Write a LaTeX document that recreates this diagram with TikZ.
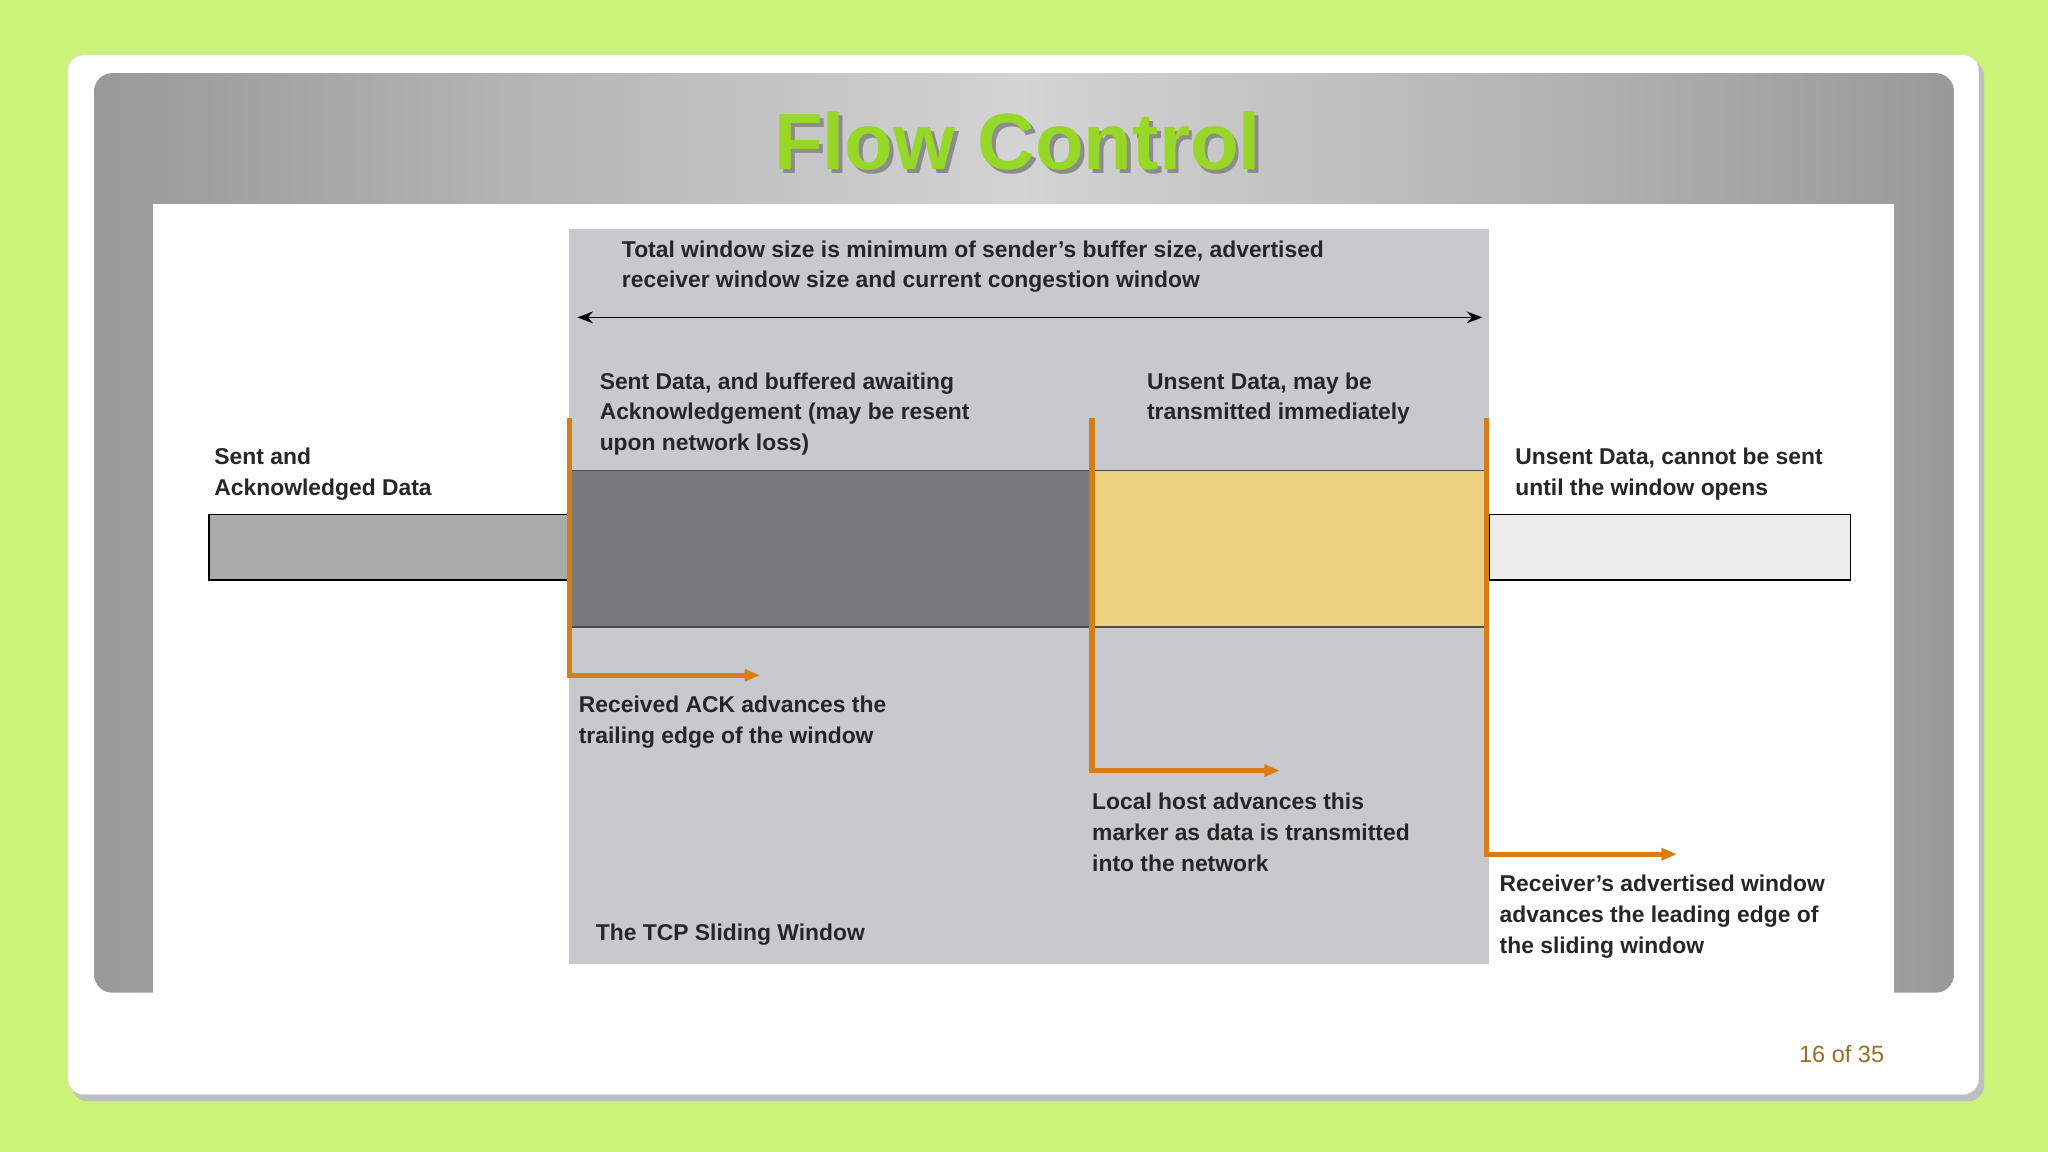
\documentclass[tikz,border=0pt]{standalone}
\usepackage{fontspec}
\setmainfont{Liberation Sans}
\newfontfamily\sansf{Liberation Sans}
\usetikzlibrary{arrows.meta}
\definecolor{bggreen}{RGB}{205,242,122}
\definecolor{tgreen}{RGB}{150,215,40}
\definecolor{panelg}{RGB}{200,201,204}
\definecolor{darkg}{RGB}{120,120,122}
\definecolor{yel}{RGB}{236,210,128}
\definecolor{orng}{RGB}{214,125,20}
\definecolor{pnum}{RGB}{150,110,40}
\tikzset{
 lbl/.style={anchor=north west,align=left,font=\bfseries\fontsize{17.5}{23.5}\selectfont,text=black!85,inner sep=0pt},
 orarrow/.style={draw=orng,line width=4pt,-{Triangle[length=12pt,width=9pt]}},
}
\begin{document}
\begin{tikzpicture}[x=1pt,y=-1pt]
\fill[bggreen] (0,0) rectangle (1568,882);
\useasboundingbox (0,0) rectangle (1568,882);
\fill[black!25,rounded corners=12pt] (55,46) rectangle (1519,843);
\fill[white,rounded corners=12pt,draw=black!15] (52,42) rectangle (1515,838);
\begin{scope}
\clip[rounded corners=14pt] (72,56) rectangle (1496,760);
\shade[left color=black!40,right color=black!17] (72,56) rectangle (784,760);
\shade[left color=black!17,right color=black!40] (784,56) rectangle (1496,760);
\end{scope}
\fill[white] (117,156) rectangle (1450,760);
\node[font=\sansf\bfseries\fontsize{61}{61}\selectfont,text=black!45] at (782,111) {Flow Control};
\node[font=\sansf\bfseries\fontsize{61}{61}\selectfont,text=tgreen] (title) at (779,108) {Flow Control};
\fill[panelg] (436,175) rectangle (1140,738);
\node[lbl] (t1) at (476,184) {Total window size is minimum of sender's buffer size, advertised\\receiver window size and current congestion window};
\coordinate (al) at (442,243); \coordinate (ar) at (1135,243);
\draw[{Stealth[length=12pt]}-{Stealth[length=12pt]},line width=1pt] (al) -- (ar);
\draw[fill=black!33,line width=1pt] (160,394) rectangle (436,444);
\draw[fill=black!7,line width=1pt] (1140,394) rectangle (1417,444);
\fill[darkg] (436,360) rectangle (836,480);
\fill[yel] (836,360) rectangle (1138,480);
\draw[black!70,line width=1pt] (436,360) -- (1138,360) (436,480) -- (1138,480);
\coordinate (a1) at (436,320); \coordinate (b1) at (436,517); \coordinate (c1) at (582,517);
\coordinate (a2) at (836,320); \coordinate (b2) at (836,590); \coordinate (c2) at (980,590);
\coordinate (a3) at (1138,320); \coordinate (b3) at (1138,654); \coordinate (c3) at (1284,654);
\draw[orarrow] (a1) -- (b1) -- (c1);
\draw[orarrow] (a2) -- (b2) -- (c2);
\draw[orarrow] (a3) -- (b3) -- (c3);
\node[lbl] (s1) at (164,343) {Sent and\\Acknowledged Data};
\node[lbl] (s2) at (459,285) {Sent Data, and buffered awaiting\\Acknowledgement (may be resent\\upon network loss)};
\node[lbl] (s3) at (878,285) {Unsent Data, may be\\transmitted immediately};
\node[lbl] (s4) at (1160,343) {Unsent Data, cannot be sent\\until the window opens};
\node[lbl] (r1) at (443,533) {Received ACK advances the\\trailing edge of the window};
\node[lbl] (r2) at (836,607) {Local host advances this\\marker as data is transmitted\\into the network};
\node[lbl] (r3) at (1148,670) {Receiver's advertised window\\advances the leading edge of\\the sliding window};
\node[lbl] (cap) at (456,707) {The TCP Sliding Window};
\node[font=\sansf\fontsize{18}{18}\selectfont,text=pnum] (pg) at (1410,807) {16 of 35};
\end{tikzpicture}
\end{document}
